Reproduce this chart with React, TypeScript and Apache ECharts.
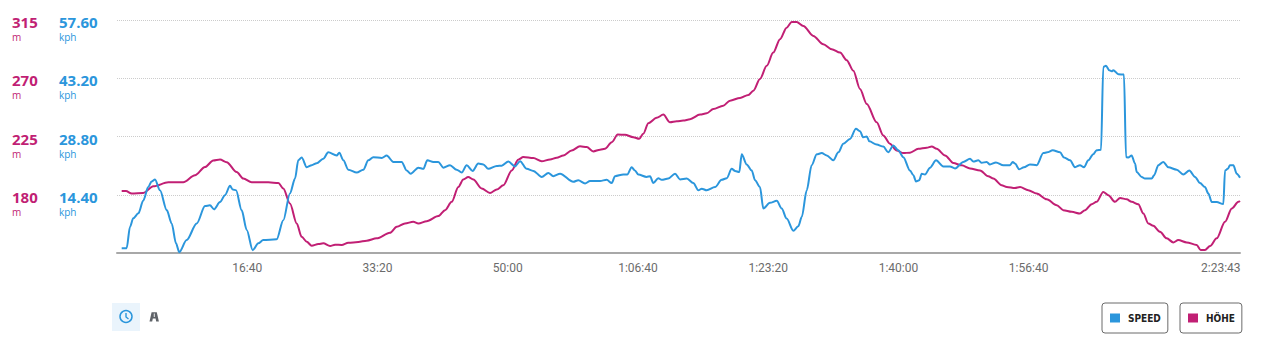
import React, { useEffect, useRef } from 'react';
import * as echarts from 'echarts';

// ---- data (time in seconds) ----
const TOTAL_SECONDS = 8623;

const speedTime = [36,74,100,125,164,202,240,266,292,330,382,420,453,478,535,612,676,714,745,791,829,868,888,914,957,996,1042,1085,1123,1226,1277,1328,1367,1392,1418,1457,1495,1533,1584,1622,1687,1707,1738,1776,1841,1891,1930,1968,2033,2071,2122,2186,2224,2255,2314,2352,2383,2429,2467,2506,2557,2608,2647,2685,2731,2774,2813,2851,2916,2954,3005,3056,3095,3146,3197,3261,3312,3350,3402,3504,3542,3594,3632,3709,3760,3799,3824,3888,3918,3952,3977,4003,4067,4093,4118,4156,4182,4233,4285,4323,4375,4425,4464,4490,4528,4592,4643,4682,4720,4746,4778,4797,4835,4874,4899,4937,4963,5014,5066,5104,5142,5193,5231,5258,5296,5334,5373,5411,5450,5500,5539,5577,5628,5674,5705,5730,5757,5777,5833,5884,5922,5961,5999,6038,6089,6115,6135,6160,6179,6204,6243,6289,6345,6396,6435,6498,6550,6575,6614,6640,6678,6703,6749,6806,6857,6878,6895,6928,6964,7010,7062,7113,7143,7185,7241,7272,7318,7356,7394,7425,7458,7496,7522,7556,7573,7594,7619,7638,7650,7689,7732,7748,7765,7791,7817,7830,7868,7893,7945,7963,7996,8034,8073,8137,8188,8234,8278,8316,8354,8380,8406,8444,8495,8508,8529,8546,8572,8598,8623];

const speedKph = [1.2,1.2,6.5,8.6,9.8,13.0,16.3,17.7,18.2,15.5,10.6,7.3,2.4,0.2,3.2,7.3,11.6,11.8,10.8,12.6,14.3,16.6,15.7,15.5,10.6,5.7,0.7,2.4,3.2,3.4,8.1,14.7,18.4,22.9,23.6,21.2,21.7,22.2,23.3,24.9,24.1,24.8,22.9,20.6,19.9,20.6,22.9,23.7,23.5,24.1,22.5,22.5,20.4,19.6,21.1,20.8,22.9,22.5,22.5,21.1,21.7,20.6,19.9,21.7,20.3,22.1,21.9,20.8,21.5,21.6,22.6,21.4,22.7,20.8,20.3,18.8,19.8,19.0,19.6,17.6,18.0,17.2,17.8,17.8,18.1,17.3,19.0,19.4,19.4,21.2,20.4,19.4,18.8,19.0,17.3,18.5,18.1,18.4,19.6,18.2,18.4,17.3,15.5,15.9,15.5,16.3,18.1,18.5,20.8,20.3,20.0,24.4,21.9,20.4,18.0,16.3,11.0,12.4,12.9,11.0,8.5,5.5,6.6,8.9,15.5,21.7,24.4,24.7,24.1,22.9,24.9,27.0,28.2,30.7,30.1,28.6,28.8,27.6,26.8,26.3,24.9,26.6,25.4,23.7,20.4,19.2,17.7,18.0,19.6,19.4,21.1,22.9,21.4,21.4,20.9,22.5,23.3,22.6,22.9,22.3,22.5,21.9,22.4,21.7,21.7,22.5,22.1,20.7,21.2,21.9,21.7,24.7,24.9,25.4,24.9,23.6,22.9,21.2,21.7,21.2,22.9,24.4,25.4,25.5,46.0,46.3,45.2,44.9,45.2,44.2,44.1,23.7,23.6,24.1,22.1,20.0,18.8,18.4,18.4,19.2,21.7,22.5,21.2,20.6,19.4,20.4,18.8,17.3,16.3,14.7,12.6,12.6,12.1,20.4,20.8,21.7,21.7,19.6,18.6];

const eleTime = [36,69,113,202,279,394,509,599,676,739,791,842,919,970,1034,1162,1239,1277,1328,1380,1418,1457,1495,1546,1584,1636,1674,1725,1776,1853,1917,1994,2096,2148,2211,2275,2314,2378,2467,2519,2570,2621,2659,2697,2736,2800,2864,2916,2966,3031,3081,3120,3197,3261,3325,3376,3427,3491,3555,3607,3657,3709,3747,3799,3845,3901,3964,4010,4041,4080,4144,4195,4246,4298,4348,4400,4477,4528,4579,4655,4707,4784,4848,4886,4937,4989,5039,5091,5142,5181,5219,5270,5347,5423,5488,5552,5603,5654,5705,5757,5833,5884,5935,5987,6038,6089,6153,6217,6256,6294,6358,6422,6486,6550,6627,6690,6729,6793,6832,6895,6934,6997,7062,7139,7216,7266,7331,7394,7433,7484,7522,7573,7612,7663,7702,7753,7791,7842,7881,7919,7957,8009,8060,8111,8149,8214,8290,8321,8354,8393,8444,8508,8560,8611,8623];

const eleMeters = [182.9,182.9,180.9,181.4,186.5,189.6,189.6,195.0,201.4,206.5,207.3,205.2,197.5,192.5,189.6,189.6,189.1,184.8,173.2,157.8,147.5,143.7,140.6,141.9,142.5,140.4,141.4,141.2,142.9,143.5,144.5,146.3,150.6,155.2,157.8,159.1,157.8,159.6,163.5,168.1,174.5,186.0,191.7,193.7,191.7,184.8,181.4,184.0,187.3,198.8,207.1,209.1,208.3,205.8,207.3,208.6,210.4,214.2,217.5,216.8,213.5,214.8,215.5,220.6,226.5,226.3,224.5,223.2,227.1,235.2,239.4,241.9,236.0,236.8,237.3,238.3,241.9,242.9,246.3,248.8,252.7,254.8,257.1,260.4,269.4,279.6,289.8,300.2,309.1,313.5,313.5,310.4,302.7,296.3,292.5,289.8,284.0,275.8,261.7,250.2,236.0,225.8,219.4,214.2,212.2,212.5,215.5,216.3,217.3,215.5,210.4,204.5,202.7,200.2,198.8,194.2,192.5,187.3,186.0,185.2,186.0,183.5,180.9,176.5,171.9,168.1,166.8,165.5,168.1,172.7,174.5,182.2,179.6,174.5,177.5,176.5,174.5,172.7,165.5,157.8,156.0,151.4,146.3,143.2,145.0,143.2,141.2,137.3,137.3,140.4,146.3,159.1,169.4,174.5,175.2];

const xHiddenTicks = [0, 8000];
const eleAxis = { min: 135, max: 315, interval: 45, unit: 'm' };
const speedAxis = { min: 0, max: 57.6, interval: 14.4, unit: 'kph' };
const legendNames = ['SPEED', 'HÖHE'];

const BLUE = '#2b96dc';
const MAGENTA = '#c11f74';

const zip = (a: number[], b: number[]) => {
  const n = Math.min(a.length, b.length);
  const out: number[][] = [];
  for (let i = 0; i < n; i++) out.push([a[i], b[i]]);
  return out;
};

const pad = (n: number) => String(n).padStart(2, '0');
const fmtTime = (v: number) => {
  const h = Math.floor(v / 3600);
  const m = Math.floor((v % 3600) / 60);
  const s = Math.round(v % 60);
  return h > 0 ? `${h}:${pad(m)}:${pad(s)}` : `${pad(m)}:${pad(s)}`;
};

const yRich = (color: string) => ({
  s: { fontSize: 10, lineHeight: 18 },
  v: { fontSize: 15, fontWeight: 'bold', lineHeight: 16, color, fontFamily: 'Open Sans' },
  u: { fontSize: 10, lineHeight: 14, color, fontFamily: 'Open Sans' },
});

const legendBox = (name: string, left: number) => ({
  data: [name],
  left,
  top: 303,
  orient: 'horizontal',
  icon: 'rect',
  itemWidth: 10,
  itemHeight: 9,
  padding: [10, 7, 10, 8],
  borderColor: '#6b6b6b',
  borderWidth: 1,
  borderRadius: 3,
  selectedMode: false,
  textStyle: {
    fontFamily: '"Liberation Sans Narrow", "DejaVu Sans Condensed", sans-serif',
    fontWeight: 'bold',
    fontSize: 10,
    color: '#222',
    padding: [0, 0, 0, 3],
  },
});

export default function App() {
  const ref = useRef<HTMLDivElement>(null);

  useEffect(() => {
    if (!ref.current) return;
    const chart = echarts.init(ref.current, undefined, { renderer: 'svg' });
    chart.setOption({
      animation: false,
      backgroundColor: '#ffffff',
      grid: { left: 117, right: 24, top: 19, bottom: 100 },
      legend: [legendBox(legendNames[0], 1102), legendBox(legendNames[1], 1180)],
      xAxis: {
        type: 'value',
        min: 0,
        max: TOTAL_SECONDS,
        interval: 1000,
        axisLine: { onZero: false, lineStyle: { color: '#a8a8a8', width: 2 } },
        axisTick: { show: false },
        splitLine: { show: false },
        axisLabel: {
          color: '#6b6b6b',
          fontFamily: 'Roboto',
          fontSize: 12,
          margin: 9,
          showMinLabel: true,
          showMaxLabel: true,
          formatter: (v: number) => {
            if (xHiddenTicks.includes(v)) return '';
            if (v >= TOTAL_SECONDS) return `{last|${fmtTime(v)}}`;
            return fmtTime(v);
          },
          rich: {
            last: { width: 78, align: 'left', color: '#6b6b6b', fontFamily: 'Roboto', fontSize: 12 },
          },
        },
      },
      yAxis: [
        {
          type: 'value',
          min: eleAxis.min,
          max: eleAxis.max,
          interval: eleAxis.interval,
          position: 'left',
          axisLine: { show: false },
          axisTick: { show: false },
          splitLine: { show: true, lineStyle: { type: 'dotted', color: '#cccccc', width: 1 } },
          axisLabel: {
            align: 'left',
            margin: 105,
            showMinLabel: false,
            formatter: (v: number) => (v <= eleAxis.min ? '' : `{s| }\n{v|${v}}\n{u|${eleAxis.unit}}`),
            rich: yRich(MAGENTA),
          },
        },
        {
          type: 'value',
          min: speedAxis.min,
          max: speedAxis.max,
          interval: speedAxis.interval,
          position: 'left',
          axisLine: { show: false },
          axisTick: { show: false },
          splitLine: { show: false },
          axisLabel: {
            align: 'left',
            margin: 58,
            showMinLabel: false,
            formatter: (v: number) => (v <= speedAxis.min ? '' : `{s| }\n{v|${v.toFixed(2)}}\n{u|${speedAxis.unit}}`),
            rich: yRich(BLUE),
          },
        },
      ],
      series: [
        {
          name: legendNames[1],
          type: 'line',
          yAxisIndex: 0,
          data: zip(eleTime, eleMeters),
          showSymbol: false,
          smooth: 0.3,
          smoothMonotone: 'x',
          lineStyle: { color: MAGENTA, width: 2 },
          itemStyle: { color: MAGENTA },
        },
        {
          name: legendNames[0],
          type: 'line',
          yAxisIndex: 1,
          data: zip(speedTime, speedKph),
          showSymbol: false,
          smooth: 0.3,
          smoothMonotone: 'x',
          lineStyle: { color: BLUE, width: 2 },
          itemStyle: { color: BLUE },
        },
      ],
      graphic: [
        { type: 'rect', shape: { x: 112, y: 303, width: 28, height: 28 }, style: { fill: '#eaf4fc' } },
        { type: 'circle', shape: { cx: 126, cy: 316.5, r: 6 }, style: { fill: 'none', stroke: BLUE, lineWidth: 1.5 } },
        { type: 'polyline', shape: { points: [[126, 313], [126, 317], [128.5, 319]] }, style: { fill: 'none', stroke: BLUE, lineWidth: 1.4 } },
        {
          type: 'polygon',
          shape: { points: [[149.5, 321.5], [151.6, 312.2], [156.8, 312.2], [158.9, 321.5], [156.2, 321.5], [155.6, 318.6], [152.8, 318.6], [152.2, 321.5]] },
          style: { fill: '#5f6368' },
        },
        { type: 'rect', shape: { x: 153.8, y: 313.6, width: 0.9, height: 3.4 }, style: { fill: '#ffffff' } },
      ],
    });
    return () => chart.dispose();
  }, []);

  return <div ref={ref} style={{ position: 'fixed', left: 0, top: 0, width: 1264, height: 353 }} />;
}
